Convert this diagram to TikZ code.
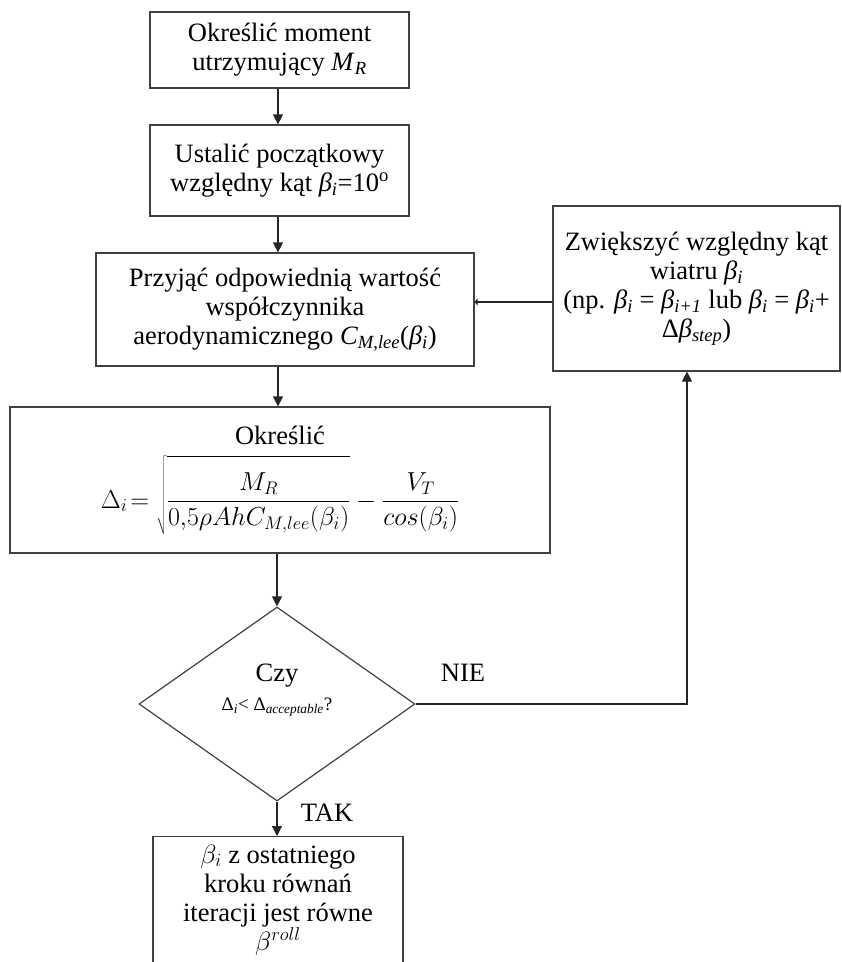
\documentclass[tikz,border=0pt]{standalone}
\usepackage{fix-cm}
\usepackage{fontspec}
\setmainfont{Liberation Serif}
\usetikzlibrary{shapes.geometric,arrows.meta}
\newcommand{\sbi}[1]{\textsubscript{\textit{#1}}}
\begin{document}
\begin{tikzpicture}[x=1pt,y=-1pt,
  box/.style={draw=black!75, line width=1.2pt, align=center, font=\rmfamily\fontsize{26.5}{29}\selectfont, inner sep=0pt},
  arr/.style={draw=black!85, line width=1.2pt, -{Triangle[length=10pt,width=10pt]}},
  lbl/.style={font=\rmfamily\fontsize{26.5}{29}\selectfont, inner sep=0pt, align=center}]
\useasboundingbox (0,0) rectangle (842,962);
\clip (0,0) rectangle (842,962);
\node[box, minimum width=259pt, minimum height=76pt] (b1) at (279.5,50) {Określić moment\\ utrzymujący \textit{M}\sbi{R}};
\node[box, minimum width=259pt, minimum height=91pt] (b2) at (279.5,170.5) {Ustalić początkowy\\ względny kąt \textit{β}\sbi{i}=10\textsuperscript{o}};
\node[box, minimum width=378pt, minimum height=113pt] (b3) at (285,309.5) {Przyjąć odpowiednią wartość\\ współczynnika\\ aerodynamicznego \textit{C}\sbi{M,lee}(\textit{β}\sbi{i})};
\node[box, minimum width=540pt, minimum height=146pt] (b4) at (280,480) {Określić\\[10pt] \fontsize{26}{28}\selectfont$\displaystyle \Delta_i\!=\sqrt{\frac{\rule{0pt}{30pt}M_R}{0{,}5\rho A h C_{M,lee}(\beta_i)}}-\frac{V_T}{cos(\beta_i)}$};
\node[box, diamond, minimum width=276pt, minimum height=194pt] (d) at (277,704) {};
\node[lbl] (dt) at (277,690) {Czy\\ {\fontsize{19}{22}\selectfont Δ\sbi{i}< Δ\sbi{acceptable}?}};
\node[box, minimum width=287pt, minimum height=165pt] (b5) at (696.5,288.5) {Zwiększyć względny kąt\\ wiatru \textit{β}\sbi{i}\\ (np. \textit{β}\sbi{i} = \textit{β}\sbi{i+1} lub \textit{β}\sbi{i} = \textit{β}\sbi{i}+\\ Δ\textit{β}\sbi{step})};
\node[box, anchor=north, minimum width=250pt, inner ysep=8pt] (b6) at (278,836) {$\beta_i$ z ostatniego\\ kroku równań\\ iteracji jest równe\\ $\beta^{roll}$};
\coordinate (col) at (278,0);
\coordinate (turn) at (687,704);
\coordinate (fb) at (553,302);
\draw[arr] (b1.south -| col) -- (b2.north -| col);
\draw[arr] (b2.south -| col) -- (b3.north -| col);
\draw[arr] (b3.south -| col) -- (b4.north -| col);
\draw[arr] (b4.south -| d.north) -- (d.north);
\draw[arr] (d.south) -- (b6.north -| d.south);
\draw[arr] (d.east) -- (turn) -- (b5.south -| turn);
\draw[draw=black!85, line width=1.2pt, -{Triangle[length=3pt,width=7pt]}] (b5.west |- fb) -- (b3.east |- fb);
\node[lbl] (nie) at (463,673) {NIE};
\node[lbl] (tak) at (327,813) {TAK};
\end{tikzpicture}
\end{document}
